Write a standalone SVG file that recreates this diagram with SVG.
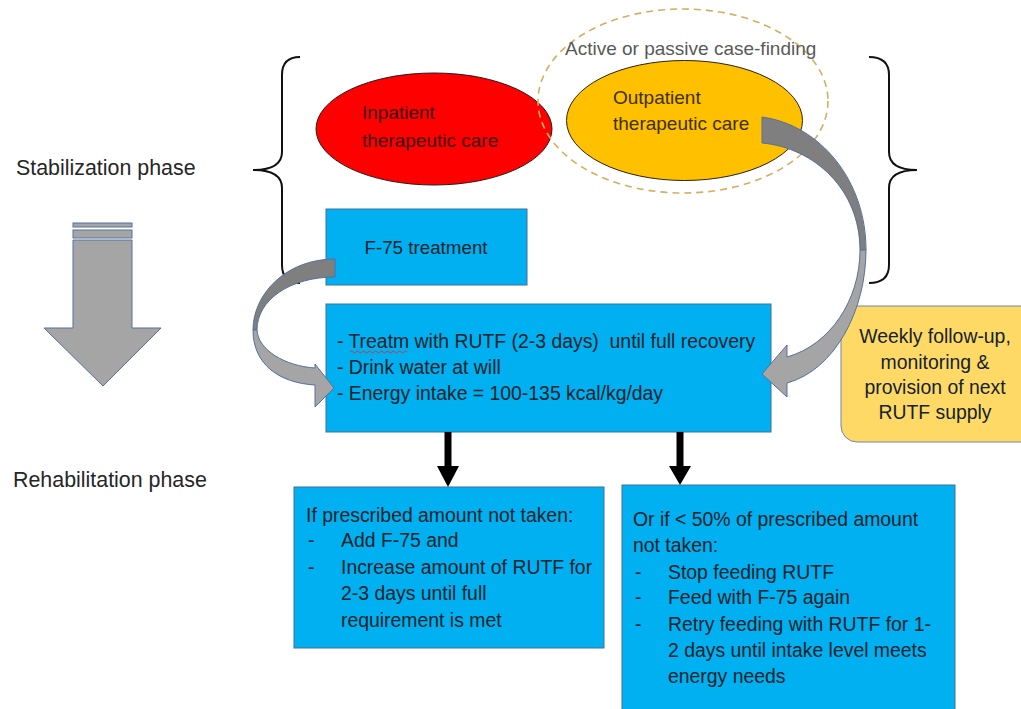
<svg xmlns="http://www.w3.org/2000/svg" width="1021" height="709" viewBox="0 0 1021 709">
<style>
text{font-family:"Liberation Sans",Arial,sans-serif;}
.phase{font-size:21.4px;fill:#262626;}
.blue{fill:#00B0F0;stroke:#41719C;stroke-width:1;}
.bt{font-size:19.4px;fill:#13232b;}
.brace{fill:none;stroke:#111;stroke-width:2;}
.dark{fill:#7F7F7F;stroke:#5470A0;stroke-width:1;}
.light{fill:#A5A5A5;stroke:#5470A0;stroke-width:1;}
.blk{fill:#000;}
</style>
<rect width="1021" height="709" fill="#fff"/>

<g id="labels">
<text class="phase" x="16" y="175">Stabilization phase</text>
<text class="phase" x="13" y="487">Rehabilitation phase</text>
</g>

<g id="phase-arrow">
<rect x="73" y="223" width="59" height="4" class="light"/>
<rect x="73" y="230" width="59" height="8" class="light"/>
<path d="M73,240 L132,240 L132,328 L161,328 L103,386 L44,328 L73,328 Z" class="light"/>
</g>

<g id="braces">
<path class="brace" d="M300,57 Q282,57 282,75 L282,152 Q282,170 253,170 Q282,170 282,188 L282,265 Q282,283 300,283"/>
<path class="brace" d="M869,57 Q889,57 889,75 L889,152 Q889,170 917,170 Q889,170 889,188 L889,265 Q889,283 869,283"/>
</g>

<g id="inpatient">
<ellipse cx="434" cy="129" rx="118" ry="56" fill="#FF0000" stroke="#2a1a1a" stroke-width="1"/>
<text x="362" y="119" font-size="19" fill="#3a0808">Inpatient</text>
<text x="362" y="147" font-size="19" fill="#3a0808">therapeutic care</text>
</g>

<g id="outpatient">
<ellipse cx="684.5" cy="120.5" rx="118" ry="60" fill="#FFC000" stroke="#2a2210" stroke-width="1"/>
<text x="613" y="104" font-size="19" fill="#3d3000">Outpatient</text>
<text x="613" y="130" font-size="19" fill="#3d3000">therapeutic care</text>
</g>

<g id="case-finding">
<ellipse cx="683" cy="101" rx="145" ry="92" fill="none" stroke="#D1B060" stroke-width="1.6" stroke-dasharray="7,5"/>
<text x="565" y="55" font-size="19" fill="#595959">Active or passive case-finding</text>
</g>

<g id="f75">
<rect x="326" y="209" width="201" height="76" class="blue"/>
<text x="426" y="254" font-size="18.8" fill="#13232b" text-anchor="middle">F-75 treatment</text>
</g>

<g id="main">
<rect x="326" y="304" width="445" height="128" class="blue"/>
<text class="bt" x="337" y="348" xml:space="preserve">- Treatm with RUTF (2-3 days)  until full recovery</text>
<text class="bt" x="337" y="374">- Drink water at will</text>
<text class="bt" x="337" y="400">- Energy intake = 100-135 kcal/kg/day</text>
<path d="M350,352 q1.5,-2 3,0 t3,0 t3,0 t3,0 t3,0 t3,0 t3,0 t3,0 t3,0 t3,0 t3,0 t3,0 t3,0 t3,0 t3,0 t3,0 t3,0 t3,0 t3,0" fill="none" stroke="#E03030" stroke-width="0.9"/>
</g>

<g id="followup">
<rect x="841" y="306" width="200" height="136" rx="16" ry="16" fill="#FFD966" stroke="#6F86AD" stroke-width="1"/>
<text class="bt" x="935" y="343" text-anchor="middle" fill="#3a3320">Weekly follow-up,</text>
<text class="bt" x="935" y="369" text-anchor="middle" fill="#3a3320">monitoring &amp;</text>
<text class="bt" x="935" y="394" text-anchor="middle" fill="#3a3320">provision of next</text>
<text class="bt" x="935" y="419" text-anchor="middle" fill="#3a3320">RUTF supply</text>
</g>

<g id="box-left">
<rect x="294" y="487" width="310" height="161" class="blue"/>
<text class="bt" x="306" y="522">If prescribed amount not taken:</text>
<text class="bt" x="308" y="547">-</text>
<text class="bt" x="341" y="547">Add F-75 and</text>
<text class="bt" x="308" y="574">-</text>
<text class="bt" x="341" y="574">Increase amount of RUTF for</text>
<text class="bt" x="341" y="600">2-3 days until full</text>
<text class="bt" x="341" y="627">requirement is met</text>
</g>

<g id="box-right">
<rect x="622" y="485" width="333" height="230" class="blue"/>
<text class="bt" x="633" y="526">Or if &lt; 50% of prescribed amount</text>
<text class="bt" x="633" y="552">not taken:</text>
<text class="bt" x="635" y="579">-</text>
<text class="bt" x="668" y="579">Stop feeding RUTF</text>
<text class="bt" x="635" y="604">-</text>
<text class="bt" x="668" y="604">Feed with F-75 again</text>
<text class="bt" x="635" y="631">-</text>
<text class="bt" x="668" y="631">Retry feeding with RUTF for 1-</text>
<text class="bt" x="668" y="657">2 days until intake level meets</text>
<text class="bt" x="668" y="683">energy needs</text>
</g>

<g id="connectors">
<path class="dark" d="M335,259 C285,259 253,295 253,330 L257,330 C257,300 290,277 335,277 Z"/>
<path class="light" d="M253,330 C253,365 280,383 315,385 L315,407 L334,388 L315,364 L315,368 C285,366 258,350 257,330 Z"/>
<path class="dark" d="M762,117 C820,125 866,180 866,250 L860,250 C860,190 815,148 762,143 Z"/>
<path class="light" d="M866,250 C866,310 835,370 787,383 L787,397 L762,374 L787,345 L787,357 C830,345 860,300 860,250 Z"/>
<rect class="blk" x="444.5" y="432" width="7" height="34"/>
<polygon class="blk" points="437,466 459,466 448,487"/>
<rect class="blk" x="676.5" y="432" width="7" height="34"/>
<polygon class="blk" points="669,466 691,466 680,485"/>
</g>
</svg>
